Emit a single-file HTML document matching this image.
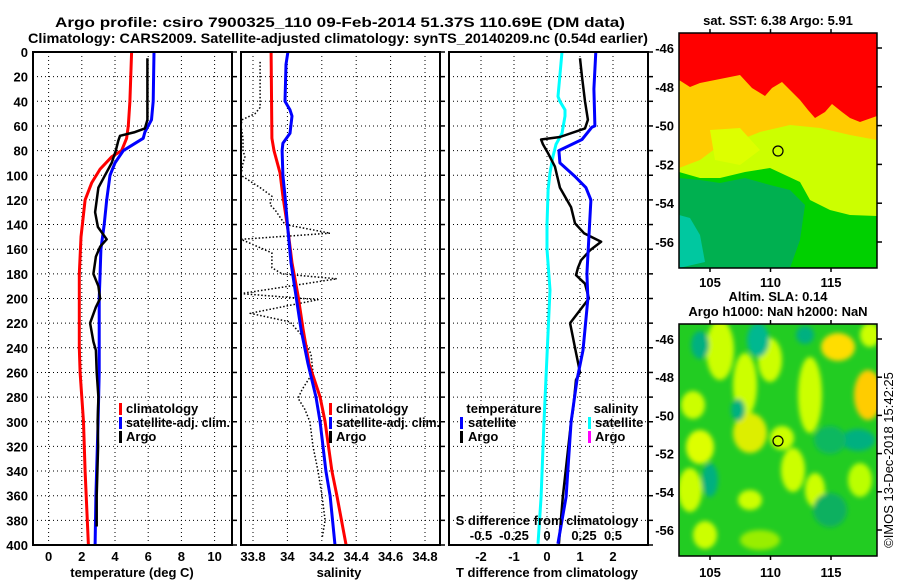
<!DOCTYPE html>
<html><head><meta charset="utf-8"><style>
html,body{margin:0;padding:0;background:#fff;}
svg{display:block;font-family:"Liberation Sans",sans-serif;font-weight:bold;}
</style></head><body>
<svg id="chart" width="900" height="580" viewBox="0 0 900 580" xmlns="http://www.w3.org/2000/svg">
<defs>
<clipPath id="c1"><rect x="33" y="52" width="199" height="493"/></clipPath>
<clipPath id="c2"><rect x="241" y="52" width="199" height="493"/></clipPath>
<clipPath id="c3"><rect x="449" y="52" width="199" height="493"/></clipPath>
<clipPath id="cm1"><rect x="679" y="33" width="198" height="235"/></clipPath>
<clipPath id="cm2"><rect x="679" y="324" width="198" height="232"/></clipPath>
<filter id="blur" x="-20%" y="-20%" width="140%" height="140%"><feGaussianBlur stdDeviation="2.5"/></filter>
</defs>
<text x="340" y="27" text-anchor="middle" font-size="14" textLength="570" lengthAdjust="spacingAndGlyphs">Argo profile: csiro 7900325_110 09-Feb-2014 51.37S 110.69E (DM data)</text>
<text x="338" y="43" text-anchor="middle" font-size="14" textLength="620" lengthAdjust="spacingAndGlyphs">Climatology: CARS2009. Satellite-adjusted climatology: synTS_20140209.nc (0.54d earlier)</text>
<g id="grid"></g>
<g id="series"></g>
<g id="frames"></g>
<g id="labels"></g>
<g id="maps"></g>
</svg>
<script>
// ---- data ----
const depthTicks = [0,20,40,60,80,100,120,140,160,180,200,220,240,260,280,300,320,340,360,380,400];
const tempTicks = [0,2,4,6,8,10];
const salTicks = [33.8,34,34.2,34.4,34.6,34.8];
const salTickLabels = ["33.8","34","34.2","34.4","34.6","34.8"];
const tdiffTicks = [-2,-1,0,1,2];
const sdiffTicks = [-0.5,-0.25,0,0.25,0.5];
const sdiffTickLabels = ["-0.5","-0.25","0","0.25","0.5"];

const climTDepth = [0,40,60,70,80,85,95,106,120,150,180,240,260,300,340,400];
const climTVal = [5.0,4.9,4.8,4.7,4.4,3.8,3.1,2.6,2.2,1.95,1.85,1.85,1.9,2.1,2.2,2.4];
const satTDepth = [0,40,55,60,65,70,80,90,100,120,140,160,180,200,260,300,360,400];
const satTVal = [6.35,6.3,6.2,6.0,5.8,5.7,4.5,4.0,3.7,3.5,3.35,3.15,3.1,3.05,3.05,2.98,2.85,2.8];
const argoTDepth = [5,55,62,65,68,72,80,90,100,110,130,142,152,158,166,180,190,200,207,220,235,242,260,280,300,320,360,385];
const argoTVal = [5.95,5.95,5.8,5.2,4.3,4.2,4.05,3.8,3.4,3.0,2.8,2.97,3.5,3.1,2.85,2.7,3.0,3.1,2.85,2.5,2.7,2.85,2.9,3.0,2.95,2.98,2.9,2.9];

const climSDepth = [0,70,80,98,117,144,171,198,225,253,280,300,340,360,400];
const climSVal = [33.905,33.910,33.922,33.957,33.974,34.003,34.027,34.062,34.091,34.126,34.190,34.219,34.259,34.288,34.341];
const satSDepth = [0,10,40,47,52,66,74,80,100,117,144,171,198,225,253,280,300,340,360,400];
const satSVal = [34.003,33.992,33.986,34.015,34.027,34.015,33.974,33.969,33.974,33.986,34.003,34.021,34.050,34.079,34.120,34.166,34.190,34.224,34.248,34.277];
const argoSDepth = [8,45,50,55,60,70,80,85,90,100,110,117,124,128,140,147,152,163,175,180,184,196,201,212,219,230,245,260,274,281,290,300,320,340,360,380,395];
const argoSVal = [33.841,33.841,33.812,33.736,33.730,33.742,33.742,33.753,33.742,33.730,33.841,33.910,33.899,33.928,33.986,34.248,33.730,33.910,33.910,33.969,34.288,33.730,34.178,33.783,34.015,34.085,34.137,34.149,34.085,34.062,34.102,34.131,34.149,34.178,34.201,34.219,34.201];

const satTdiffDepth = [0,30,60,61,71,80,90,101,110,120,150,180,200,242,266,300,361,399];
const satTdiffVal = [1.48,1.42,1.45,1.36,1.06,0.36,0.39,0.85,1.18,1.33,1.27,1.21,1.24,1.09,0.91,0.73,0.58,0.33];
const argoTdiffDepth = [5,20,40,55,62,69,71,75,82,93,110,126,139,147,154,161,169,175,181,188,200,220,240,260,266,290,300,361,399];
const argoTdiffVal = [1.0,1.06,1.15,1.24,1.15,0.39,-0.18,-0.12,0.03,0.24,0.39,0.73,0.85,1.12,1.64,1.30,1.03,0.94,0.88,1.15,1.27,0.70,0.85,1.0,0.88,0.79,0.73,0.48,0.36];
const satSdiffDepth = [0,36,40,47,52,66,75,85,98,112,140,160,193,266,300,361,399];
const satSdiffVal = [0.114,0.083,0.098,0.136,0.136,0.114,0.068,0.045,0.023,0.008,0,0,0.023,-0.008,-0.023,-0.045,-0.068];

const latTicks = [-46,-48,-50,-52,-54,-56];
const lonTicks = [105,110,115];

// ---- scales ----
const NS = "http://www.w3.org/2000/svg";
const yD = d => 52 + d * 1.2325;
const xT = t => 48.6 + 16.6 * t;
const xS = s => 253 + (s - 33.8) * 172;
const xTd = v => 547 + 33 * v;
const xSd = v => 547 + 132 * v;
const lonX = l => 710 + (l - 105) * 12.1;
const latY1 = l => 48 + (-46 - l) * 19.4;
const latY2 = l => 339 + (-46 - l) * 19.1;

function mk(tag, attrs, parent){const e=document.createElementNS(NS,tag);for(const k in attrs)e.setAttribute(k,attrs[k]);parent.appendChild(e);return e;}
const grid=document.getElementById('grid'), series=document.getElementById('series'), frames=document.getElementById('frames'), labels=document.getElementById('labels'), maps=document.getElementById('maps');

const panels=[{x0:33,x1:232},{x0:241,x1:440},{x0:449,x1:648}];
panels.forEach((p,i)=>{
  depthTicks.forEach(d=>{
    if(d>0&&d<400){
      const l=mk('line',{x1:p.x0,x2:p.x1,y1:yD(d),y2:yD(d),stroke:'#000','stroke-width':1,'stroke-dasharray':'1,3'},grid);
      
      
    }
    const tk=mk('line',{x1:p.x1,x2:p.x1+5,y1:yD(d),y2:yD(d),stroke:'#000','stroke-width':1.5},grid);
    
    
  });
  const r=mk('rect',{x:p.x0,y:52,width:p.x1-p.x0,height:493,fill:'none',stroke:'#000','stroke-width':2},frames);
  
  
});
depthTicks.forEach(d=>{
  const t=mk('text',{x:28,y:yD(d)+5,'text-anchor':'end','font-size':13},labels);
  t.textContent=d;
  
  
});
function vgrid(vals,fx,txt){
  vals.forEach((v,i)=>{
    const x=fx(v);
    const l=mk('line',{x1:x,x2:x,y1:52,y2:545,stroke:'#000','stroke-width':1,'stroke-dasharray':'1,3'},grid);
    
    
    const t=mk('text',{x:x,y:561,'text-anchor':'middle','font-size':13},labels);
    t.textContent=txt?txt[i]:v;
    
    
  });
}
vgrid(tempTicks,xT);
vgrid(salTicks,xS,salTickLabels);
vgrid(tdiffTicks,xTd);

function line(ds,vs,fx,color,w,clip,name,dash){
  const pts=ds.map((d,i)=>fx(vs[i]).toFixed(1)+','+yD(d).toFixed(1)).join(' ');
  const a={points:pts,fill:'none',stroke:color,'stroke-width':w,'clip-path':'url(#'+clip+')','stroke-linejoin':'round'};
  if(dash)a['stroke-dasharray']=dash;
  const p=mk('polyline',a,series);
  
  
}
line(climTDepth,climTVal,xT,'#ff0000',3,'c1','temp-climatology-line');
line(satTDepth,satTVal,xT,'#0000ff',3,'c1','temp-satellite-adj-line');
line(argoTDepth,argoTVal,xT,'#000',2.5,'c1','temp-argo-line');
line(argoSDepth,argoSVal,xS,'#000',1.5,'c2','salinity-argo-line','1.5,2');
line(climSDepth,climSVal,xS,'#ff0000',3,'c2','salinity-climatology-line');
line(satSDepth,satSVal,xS,'#0000ff',3,'c2','salinity-satellite-adj-line');
line(satSdiffDepth,satSdiffVal,xSd,'#00ffff',3,'c3','sdiff-satellite-line');
line(argoTdiffDepth,argoTdiffVal,xTd,'#000',2.5,'c3','tdiff-argo-line');
line(satTdiffDepth,satTdiffVal,xTd,'#0000ff',3,'c3','tdiff-satellite-line');

(function(){
  const t=mk('text',{x:547,y:525,'text-anchor':'middle','font-size':13},labels);
  t.textContent='S difference from climatology';
  
  
  sdiffTicks.forEach((v,i)=>{
    const s=mk('text',{x:xSd(v)+(v===0.25?4:0),y:540,'text-anchor':'middle','font-size':13},labels);
    s.textContent=sdiffTickLabels[i];
    
    
  });
})();

function txt(x,y,s,name,anchor,size,fill){
  const t=mk('text',{x:x,y:y,'text-anchor':anchor||'start','font-size':size||13,fill:fill||'#000'},labels);
  t.textContent=s;
  
  
  return t;
}
txt(132,577,'temperature (deg C)','temp-axis-title','middle');
txt(339,577,'salinity','salinity-axis-title','middle');
txt(547,577,'T difference from climatology','tdiff-axis-title','middle');

function legend(mx,tx,y,color,s,name,len){
  const r=mk('rect',{x:mx,y:y-10,width:3,height:12,fill:color},labels);
  
  
  const t=txt(tx,y,s,name);
  if(len){t.setAttribute('textLength',len);t.setAttribute('lengthAdjust','spacingAndGlyphs');}
}
legend(119,126,413,'#ff0000','climatology','legend-temp-climatology');
legend(119,126,427,'#0000ff','satellite-adj. clim.','legend-temp-satellite',104);
legend(119,126,441,'#000','Argo','legend-temp-argo');
legend(329,336,413,'#ff0000','climatology','legend-sal-climatology');
legend(329,336,427,'#0000ff','satellite-adj. clim.','legend-sal-satellite',104);
legend(329,336,441,'#000','Argo','legend-sal-argo');
txt(504,413,'temperature','legend-temperature-heading','middle');
legend(460,468,427,'#0000ff','satellite','legend-tdiff-satellite');
legend(460,468,441,'#000','Argo','legend-tdiff-argo');
txt(616,413,'salinity','legend-salinity-heading','middle');
legend(588,595,427,'#00ffff','satellite','legend-sdiff-satellite');
legend(588,595,441,'#ff00ff','Argo','legend-sdiff-argo');

// ---- maps ----
txt(778,25,'sat. SST: 6.38 Argo: 5.91','sst-map-title','middle');
txt(778,301,'Altim. SLA: 0.14','sla-map-title','middle');
txt(778,316,'Argo h1000: NaN h2000: NaN','argo-height-title','middle');

const g1=mk('g',{'clip-path':'url(#cm1)'},maps);


function poly(g,pts,fill,name){const p=mk('polygon',{points:pts,fill:fill},g);return p;}
poly(g1,'679,33 877,33 877,268 679,268','#00d000','sst-base');
poly(g1,'679,33 877,33 877,216 850,215 830,210 810,200 800,182 770,168 745,172 720,178 700,178 679,172','#ccff00','sst-yellowgreen');
poly(g1,'679,33 877,33 877,140 850,135 820,128 790,125 760,132 740,140 720,145 700,160 679,168','#ffcc00','sst-orange');
poly(g1,'679,33 877,33 877,116 860,122 850,118 842,112 832,104 825,112 815,118 808,110 800,100 790,90 782,82 772,88 765,96 752,88 740,75 720,79 700,83 690,87 679,80','#ff0000','sst-red');
poly(g1,'679,178 700,180 720,183 745,178 770,185 790,190 805,205 800,240 790,268 679,268','#00b050','sst-darkgreen');
poly(g1,'679,215 690,218 700,235 705,262 679,268','#00c8a0','sst-teal');
poly(g1,'710,130 740,128 760,150 740,165 715,160','#ddff00','sst-yellow-patch');
const c1=mk('circle',{cx:778,cy:151,r:5,fill:'none',stroke:'#000','stroke-width':1.2},maps);



const g2=mk('g',{'clip-path':'url(#cm2)'},maps);


poly(g2,'679,324 877,324 877,556 679,556','#22cc22','sla-base');
const gb=mk('g',{filter:'url(#blur)'},g2);
const blobs=[[720,350,14,30,'#ccff00'],[745,385,12,32,'#ccff00'],[770,360,12,22,'#ccff00'],[810,395,12,38,'#ccff00'],[838,347,17,14,'#ffdd00'],[868,395,14,25,'#ffcc00'],[693,405,12,14,'#ccff00'],[750,433,17,20,'#ddee00'],[700,447,14,17,'#ddff00'],[793,470,12,22,'#ccff00'],[690,490,12,22,'#ccff00'],[750,500,12,10,'#ccff00'],[705,535,12,14,'#ccff00'],[815,490,10,17,'#ccff00'],[870,335,10,12,'#ccff00'],[860,480,12,17,'#bbff00'],[782,438,12,12,'#ccff00'],[760,540,20,10,'#99ee00'],[700,345,9,14,'#00b080'],[758,340,11,17,'#00b890'],[805,335,9,9,'#00b080'],[738,410,7,11,'#00b080'],[858,440,17,11,'#00b080'],[710,480,8,17,'#00b080'],[830,510,17,17,'#10b060'],[830,440,16,14,'#10b860']];
blobs.forEach(b=>{const e=mk('ellipse',{cx:b[0],cy:b[1],rx:b[2],ry:b[3],fill:b[4]},gb);});
const c2=mk('circle',{cx:778,cy:441,r:5,fill:'none',stroke:'#000','stroke-width':1.2},maps);



[[33,268,latY1,287],[324,556,latY2,577]].forEach((m,mi)=>{
  const r=mk('rect',{x:679,y:m[0],width:198,height:m[1]-m[0],fill:'none',stroke:'#000','stroke-width':1.5},maps);
  
  
  latTicks.forEach(l=>{
    const y=m[2](l);
    const tk=mk('line',{x1:877,x2:882,y1:y,y2:y,stroke:'#000','stroke-width':1.5},maps);
    
    
    txt(674,y+5,String(l),'lat-tick-label','end');
  });
  lonTicks.forEach(l=>{
    const x=lonX(l);
    const tk=mk('line',{x1:x,x2:x,y1:m[0]-4,y2:m[0],stroke:'#000','stroke-width':1.5},maps);
    
    
    const tb=mk('line',{x1:x,x2:x,y1:m[1],y2:m[1]+4,stroke:'#000','stroke-width':1.5},maps);
    
    
    txt(x,m[3],String(l),'lon-tick-label','middle');
  });
});
const cp=txt(0,0,'©IMOS 13-Dec-2018 15:42:25','copyright-stamp','middle',13);
cp.setAttribute('font-weight','normal');
cp.setAttribute('transform','translate(893,460) rotate(-90)');
</script>
</body></html>
